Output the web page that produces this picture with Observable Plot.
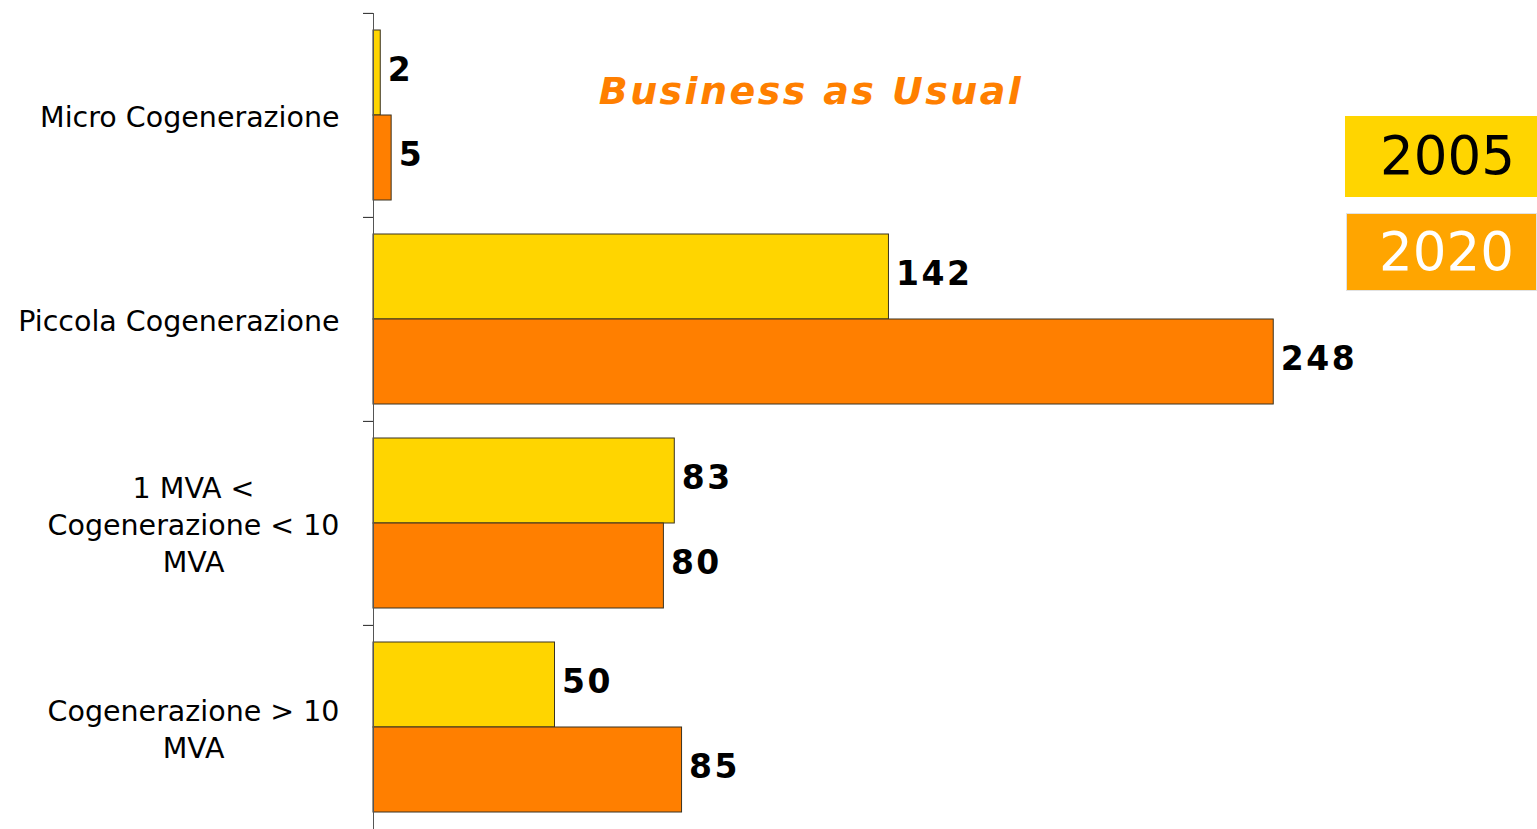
<!DOCTYPE html>
<html>
<head>
<meta charset="utf-8">
<script src="https://cdn.jsdelivr.net/npm/d3@7"></script>
<script src="https://cdn.jsdelivr.net/npm/@observablehq/plot@0.6"></script>
<style>
  body { margin: 0; background: #fff; }
  #wrap { position: relative; width: 1537px; height: 829px; overflow: hidden; font-family: "DejaVu Sans", Verdana, sans-serif; }
  #title { position: absolute; left: 0; width: 1622px; top: 72px; line-height: 38px; text-align: center;
           font-size: 38px; font-weight: bold; font-style: italic; color: #FF7F00; letter-spacing: 2.4px; white-space: nowrap; }
  .leg { position: absolute; box-sizing: border-box; text-align: right; padding-right: 22px; font-size: 53px; white-space: nowrap; }
</style>
</head>
<body>
<div id="wrap"></div>
<script>
// ---- data ----
const categories = ["Micro Cogenerazione", "Piccola Cogenerazione", "1 MVA <\nCogenerazione < 10\nMVA", "Cogenerazione > 10\nMVA"];
const years = ["2005", "2020"];
const values2005 = [2, 142, 83, 50];
const values2020 = [5, 248, 80, 85];
const barColors = ["#FFD500", "#FF7F00"];
const legendColors = ["#FFD500", "#FFA500"];
const legendTextColors = ["#000000", "#FFFFFF"];
const titleText = "Business as Usual";

const data = categories.flatMap((c, i) => [
  {cat: c, year: years[0], value: values2005[i]},
  {cat: c, year: years[1], value: values2020[i]}
]);

// ---- layout ----
const W = 1537, H = 829;
const mL = 373, mR = 75, mT = 12, mB = 0;
const step = (H - mT - mB) / categories.length;
const labelFont = 28.5;
const gap = 34;

const ctx = document.createElement("canvas").getContext("2d");
ctx.font = `${labelFont}px "DejaVu Sans"`;
const labelWidth = c => Math.max(...c.split("\n").map(s => ctx.measureText(s).width));

const labelMarks = categories.map(c => Plot.text([c], {
  fy: d => d, text: d => d, frameAnchor: "left", textAnchor: "middle",
  dx: -(gap + labelWidth(c) / 2), fontSize: labelFont, lineHeight: 1.3, fill: "#000"
}));

const chart = Plot.plot({
  width: W, height: H,
  marginLeft: mL, marginRight: mR, marginTop: mT, marginBottom: mB,
  style: {fontFamily: '"DejaVu Sans", Verdana, sans-serif', background: "transparent"},
  x: {domain: [0, 300], axis: null},
  y: {domain: years, paddingInner: 0, paddingOuter: 0.19, axis: null},
  fy: {domain: categories, padding: 0, axis: null, label: null},
  color: {domain: years, range: barColors},
  marks: [
    Plot.barX(data, {fy: "cat", y: "year", x: "value", fill: "year", stroke: "#3b3320", strokeWidth: 1}),
    Plot.text(data, {fy: "cat", y: "year", x: "value", text: d => String(d.value), textAnchor: "start",
      dx: 7, dy: -3, fontSize: 33, fontWeight: "bold", fill: "#000"}),
    Plot.ruleX([0], {stroke: "#555", strokeWidth: 1}),
    Plot.axisFy({anchor: "left", tickSize: 10, tickFormat: () => "", label: null, dy: -step / 2, stroke: "#222"}),
    ...labelMarks
  ]
});

// widen the spacing of the bold value labels
d3.select(chart).selectAll("[font-weight='bold']").attr("letter-spacing", "2.5px").style("letter-spacing", "2.5px");

const wrap = document.getElementById("wrap");
wrap.appendChild(chart);

const t = document.createElement("div");
t.id = "title";
t.textContent = titleText;
wrap.appendChild(t);

const legBoxes = [
  {left: 1345, top: 116, width: 192, height: 81, border: "none"},
  {left: 1346, top: 213, width: 191, height: 78, border: "1px solid #e2e2e2"}
];
years.forEach((y, i) => {
  const b = legBoxes[i];
  const d = document.createElement("div");
  d.className = "leg";
  d.textContent = y;
  Object.assign(d.style, {left: b.left + "px", top: b.top + "px", width: b.width + "px", height: b.height + "px",
    lineHeight: (b.height - 2) + "px", background: legendColors[i], color: legendTextColors[i], border: b.border});
  wrap.appendChild(d);
});
</script>
</body>
</html>
